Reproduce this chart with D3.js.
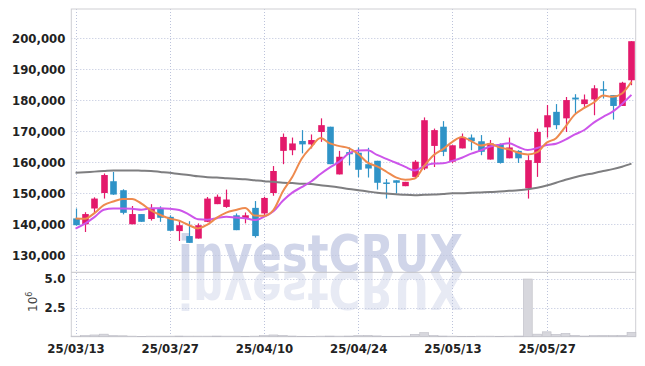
<!DOCTYPE html>
<html><head><meta charset="utf-8">
<script src="https://cdn.jsdelivr.net/npm/d3@7"></script>
<style>
body{margin:0;background:#fff}
#wrap{position:relative;width:645px;height:366px;overflow:hidden}
#c{position:absolute;left:0;top:0;display:block;z-index:1}
#wm{position:absolute;left:178px;top:0;white-space:nowrap;font-family:'DejaVu Sans',sans-serif;font-weight:bold;
 font-size:52px;line-height:52px;color:#d0d5e9;transform-origin:0 0;z-index:0}
#wm i{display:inline-block;width:0;height:0;vertical-align:baseline}
</style>
</head><body><div id="wrap"><div id="wm"><span id="wmt">investCRUX</span><i id="bl"></i></div><svg id="c" width="645" height="366"></svg></div>
<script>
const dates = ["25/03/13","25/03/14","25/03/17","25/03/18","25/03/19","25/03/20","25/03/21","25/03/24","25/03/25","25/03/26",
"25/03/27","25/03/28","25/03/31","25/04/01","25/04/02","25/04/03","25/04/04","25/04/07","25/04/08","25/04/09",
"25/04/10","25/04/11","25/04/14","25/04/15","25/04/16","25/04/17","25/04/18","25/04/21","25/04/22","25/04/23",
"25/04/24","25/04/25","25/04/28","25/04/29","25/04/30","25/05/02","25/05/07","25/05/08","25/05/09","25/05/12",
"25/05/13","25/05/14","25/05/15","25/05/16","25/05/19","25/05/20","25/05/21","25/05/22","25/05/23","25/05/26",
"25/05/27","25/05/28","25/05/29","25/05/30","25/06/02","25/06/04","25/06/05","25/06/09","25/06/10","25/06/11"];
const open = [141900,140000,145100,150100,153900,151000,140000,143300,141700,145100,
142400,137800,136200,135400,140800,146500,145600,142900,141900,145300,
143500,150100,163700,163900,166900,165800,169800,171500,156100,163300,
163100,159400,160500,153500,154200,152300,155300,158000,165300,171500,
160200,164500,168000,166800,160900,165900,161300,163700,151600,159800,
171300,176300,174200,180900,178800,180300,183600,181700,178200,186500];
const high = [145100,143900,148700,156400,156900,151300,145900,143300,146500,145800,
142900,141300,141000,140300,148800,149600,151200,143500,143800,147500,
148900,158800,169300,168000,170400,169000,174200,171500,163700,164800,
164800,164700,160500,154600,154200,153700,160700,174500,170900,173300,
165500,169300,169000,168800,167200,166100,168000,163900,162300,170900,
178500,178800,181100,182000,181900,184900,186200,181700,186000,199100];
const low = [139600,137500,143300,148300,149500,143200,140000,140800,141200,140800,
137900,134600,134000,135400,140700,146500,145300,138100,140300,135700,
142900,149200,159400,162300,162900,164500,166600,159400,156100,159000,
155200,155100,151200,148300,149900,152300,154800,157500,158500,162000,
159700,164500,163900,162300,160900,159600,161300,159800,148300,155300,
168000,170700,169800,175800,177900,175200,180600,173800,178200,184900];
const close = [139700,143300,148300,155900,149600,143700,143300,140800,145100,142100,
137900,139700,134000,139700,148300,148900,148000,138100,142900,136200,
148500,157200,168200,166100,165800,167200,172000,159400,161800,162600,
157600,158000,153400,153200,153400,153700,160200,173600,170400,163400,
165500,168000,166800,163400,166100,159800,164800,161300,160700,169800,
175200,172000,180100,180300,180300,183900,183100,178200,185700,199100];
const volume = [50000,100000,150000,220000,100000,80000,50000,30000,50000,50000,
50000,60000,50000,50000,50000,60000,50000,50000,40000,50000,
100000,150000,120000,60000,40000,30000,50000,60000,50000,60000,
100000,120000,70000,40000,40000,50000,200000,350000,100000,60000,
50000,40000,40000,50000,50000,40000,50000,60000,4970000,220000,
420000,200000,280000,120000,60000,100000,120000,110000,120000,380000];
// moving-average values for the first days (window reaches before the visible data)
const ma5Lead = [141900,141800,143600,146200];
const ma10Lead = [138600,140200,142300,144700,145100,145100,145000,144700,145200];
const ma60 = [156600,156800,157000,157200,157400,157400,157400,157300,157200,156900,
156600,156200,155900,155500,155200,155100,154900,154700,154500,154200,
153900,153700,153400,153300,153100,153000,152600,152300,151900,151400,
151000,150600,150200,149900,149700,149500,149400,149500,149600,149800,
150000,150000,150200,150300,150400,150600,150800,151000,151300,151800,
152500,153400,154400,155200,155900,156500,157200,157800,158600,159600];
const priceTicks = [130000,140000,150000,160000,170000,180000,190000,200000];
const volumeTicks = [2500000,5000000];
const dateTicks = ["25/03/13","25/03/27","25/04/10","25/04/24","25/05/13","25/05/27"];

function movingAvg(n, lead){
  return close.map((c,i)=> i < n-1 ? lead[i] : d3.mean(close.slice(i-n+1,i+1)));
}
const ma5 = movingAvg(5, ma5Lead);
const ma10 = movingAvg(10, ma10Lead);

const L=71.3, R=635.7, T=9, SEP=272.3, B=336.7;
const svg = d3.select("#c");
const x = d3.scalePoint().domain(dates).range([L,R]).padding(0.45);
const step = x.step();
const y = d3.scaleLinear().domain([124500,209500]).range([SEP,T]);
const yv = d3.scaleLinear().domain([0,5550000]).range([B,SEP]);
const FONT = "'DejaVu Sans Condensed','DejaVu Sans',sans-serif";

// watermark with reflection (HTML, behind the svg)
(function(){
  const wm = document.getElementById("wm");
  const tw = document.getElementById("wmt").getBoundingClientRect().width;
  const wr = wm.getBoundingClientRect();
  const base = document.getElementById("bl").getBoundingClientRect().top - wr.top;
  const baseline = SEP - 0.5;
  const top = baseline - base;
  wm.style.top = top + "px";
  wm.style.transform = `scaleX(${285/tw})`;
  const off = 2*(baseline - (top + wr.height));
  wm.style.webkitBoxReflect = `below ${off}px linear-gradient(rgba(0,0,0,0.5),rgba(0,0,0,0.5))`;
})();

// grid
const grid = svg.append("g").attr("stroke","#bcc3db").attr("stroke-width",1).attr("stroke-dasharray","1,2");
grid.selectAll(".hp").data(priceTicks).join("line")
  .attr("x1",L).attr("x2",R).attr("y1",d=>Math.round(y(d))+0.5).attr("y2",d=>Math.round(y(d))+0.5);
grid.selectAll(".hv").data(volumeTicks).join("line").attr("class","hv")
  .attr("x1",L).attr("x2",R).attr("y1",d=>Math.round(yv(d))+0.5).attr("y2",d=>Math.round(yv(d))+0.5);
grid.selectAll(".vx").data(dateTicks).join("line").attr("class","vx")
  .attr("x1",d=>Math.round(x(d))+0.5).attr("x2",d=>Math.round(x(d))+0.5).attr("y1",T).attr("y2",B);

// frame
const fr = svg.append("g").attr("stroke","#cfcfd4").attr("stroke-width",1).attr("fill","none");
fr.append("rect").attr("x",L).attr("y",T).attr("width",R-L).attr("height",B-T);
fr.append("line").attr("x1",L).attr("x2",R).attr("y1",SEP).attr("y2",SEP).attr("stroke","#c4c4c8");

// volume bars
svg.append("g").selectAll("rect").data(volume).join("rect")
  .attr("x",(d,i)=>x(dates[i])-step/2+0.3).attr("width",step-0.6)
  .attr("y",d=>yv(d)).attr("height",d=>B-yv(d))
  .attr("fill","#d7d7dd").attr("stroke","#bdbdc5").attr("stroke-width",0.6);

// candles
const UP="#e3196b", DOWN="#2f93c7";
const cs = svg.append("g").selectAll("g").data(dates).join("g");
cs.append("line").attr("x1",d=>Math.round(x(d))+0.5).attr("x2",d=>Math.round(x(d))+0.5)
  .attr("y1",(d,i)=>y(high[i])).attr("y2",(d,i)=>y(low[i]))
  .attr("stroke",(d,i)=>close[i]>=open[i]?UP:DOWN).attr("stroke-width",1.2);
cs.append("rect").attr("x",d=>Math.round(x(d))+0.5-3.3).attr("width",6.6)
  .attr("y",(d,i)=>y(Math.max(open[i],close[i])))
  .attr("height",(d,i)=>Math.max(1.5,Math.abs(y(open[i])-y(close[i]))))
  .attr("fill",(d,i)=>close[i]>=open[i]?UP:DOWN);

// moving average lines
const line = vals => d3.line().x((d,i)=>x(dates[i])).y(d=>y(d)).curve(d3.curveMonotoneX)(vals);
svg.append("path").attr("d",line(ma60)).attr("fill","none").attr("stroke","#7e7e80").attr("stroke-width",2);
svg.append("path").attr("d",line(ma10)).attr("fill","none").attr("stroke","#cd55ea").attr("stroke-width",2);
svg.append("path").attr("d",line(ma5)).attr("fill","none").attr("stroke","#ee8a4e").attr("stroke-width",2);

// axes
const styleAxis = g => { g.select(".domain").remove(); g.selectAll("text").attr("font-family",FONT)
  .attr("font-size",13).attr("font-weight","bold").attr("fill","#222"); };
svg.append("g").attr("transform",`translate(${L},0)`)
  .call(d3.axisLeft(y).tickValues(priceTicks).tickFormat(d3.format(",")).tickSize(0).tickPadding(6)).call(styleAxis);
svg.append("g").attr("transform",`translate(${L},0)`)
  .call(d3.axisLeft(yv).tickValues(volumeTicks).tickFormat(d=>(d/1e6).toFixed(1)).tickSize(0).tickPadding(6)).call(styleAxis);
svg.append("g").attr("transform",`translate(0,${B})`)
  .call(d3.axisBottom(x).tickValues(dateTicks).tickSize(0).tickPadding(7)).call(styleAxis);

// volume unit
const u = svg.append("text").attr("transform","translate(37,312) rotate(-90)")
  .attr("font-family","'DejaVu Sans',sans-serif").attr("font-size",12).attr("fill","#444");
u.append("tspan").text("10");
u.append("tspan").text("6").attr("font-size",8).attr("dy",-5);
</script></body></html>
